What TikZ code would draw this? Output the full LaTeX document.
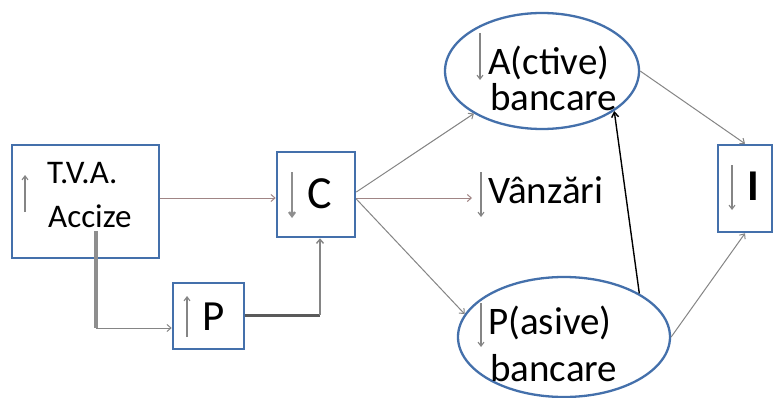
\documentclass[tikz,border=0pt]{standalone}
\usepackage{fontspec}
\setmainfont{Carlito}
\usetikzlibrary{arrows.meta,shapes.geometric,calc}
\definecolor{bord}{HTML}{4470AB}
\definecolor{conn}{HTML}{858585}
\definecolor{rconn}{HTML}{A08585}
\definecolor{thickg}{HTML}{8E8E8E}
\definecolor{darkg}{HTML}{5A5A5A}
\begin{document}
\begin{tikzpicture}[x=1pt,y=-1pt,
  box/.style={draw=bord,line width=2.6pt,fill=white,inner sep=0pt},
  oval/.style={ellipse,draw=bord,line width=2.3pt,fill=white,inner sep=0pt},
  lbl/.style={anchor=base west,inner sep=0pt,text=black},
  conn/.style={draw=conn,line width=1pt,-{Straight Barb[length=4pt,width=7pt]}},
  rconn/.style={draw=rconn,line width=1pt,-{Straight Barb[length=4pt,width=7pt]}},
  inarrow/.style={draw=conn,line width=1.1pt,-{Straight Barb[length=4pt,width=6pt]}},
]
\path[fill=white] (0,0) rectangle (775,398);
\useasboundingbox (0,0) rectangle (775,398);

% boxes
\node[box,minimum width=147pt,minimum height=113pt] (tva) at (85.5,201.5) {};
\node[box,minimum width=78pt,minimum height=85pt] (c) at (316,194.5) {};
\node[box,minimum width=71pt,minimum height=66pt] (p) at (208.5,316) {};
\node[box,minimum width=54pt,minimum height=87pt] (i) at (745,188.5) {};
\node[oval,minimum width=194pt,minimum height=116pt] (a) at (542,71) {};
\node[oval,minimum width=212pt,minimum height=120pt] (pb) at (564,337) {};

% texts
\node[lbl,font=\fontsize{33}{33}\selectfont] (t1) at (47,183) {T.V.A.};
\node[lbl,font=\fontsize{33}{33}\selectfont] (t2) at (48,227) {Accize};
\node[lbl,font=\fontsize{46}{46}\selectfont] (tc) at (307,208) {C};
\node[lbl,font=\fontsize{43}{43}\selectfont] (tp) at (202,330) {P};
\node[lbl,font=\fontsize{44}{44}\selectfont\bfseries] (ti) at (747,200) {I};
\node[lbl,font=\fontsize{39}{39}\selectfont] (ta1) at (488,75) {A(ctive)};
\node[lbl,font=\fontsize{39}{39}\selectfont] (ta2) at (490,111) {bancare};
\node[lbl,font=\fontsize{39}{39}\selectfont] (tv) at (488,203) {Vânzări};
\node[lbl,font=\fontsize{39}{39}\selectfont] (tb1) at (488,334) {P(asive)};
\node[lbl,font=\fontsize{39}{39}\selectfont] (tb2) at (490,381) {bancare};

% small arrows inside shapes
\draw[inarrow] (25,212) -- (25,175);
\draw[inarrow,line width=2.4pt,draw=thickg] (292,172) -- (292,218);
\draw[inarrow] (187,337) -- (187,296);
\draw[inarrow] (480,33) -- (480,80);
\draw[inarrow] (481,172) -- (481,217);
\draw[inarrow] (481,303) -- (481,347);
\draw[inarrow] (732,165) -- (732,210);

% helper coordinates
\coordinate (m) at (0,198);
\coordinate (tvs) at (96,231);
\coordinate (pj) at (96,328);
\coordinate (cj) at (320,315);
\coordinate (vend) at (472,198);

% connectors
\draw[rconn] (tva.east |- m) -- (c.west |- m);
\draw[draw=thickg,line width=3.5pt] (tvs) -- (pj);
\draw[conn] (pj) -- (p.west |- pj);
\draw[draw=darkg,line width=3pt] (p.east |- cj) -- (cj);
\draw[conn,line width=1.4pt] (cj) -- (cj |- c.south);
\draw[conn] (c.east |- 0,192) -- (a.212);
\draw[rconn] (c.east |- m) -- (vend);
\draw[conn] (c.east |- 0,199) -- (pb.167);
\draw[draw=black,line width=1.4pt,-{Straight Barb[length=5pt,width=7pt]}] (pb.30) -- (a.331);
\draw[conn] (a.east) -- (i.north);
\draw[conn] (pb.east) -- (i.south);
\end{tikzpicture}
\end{document}
